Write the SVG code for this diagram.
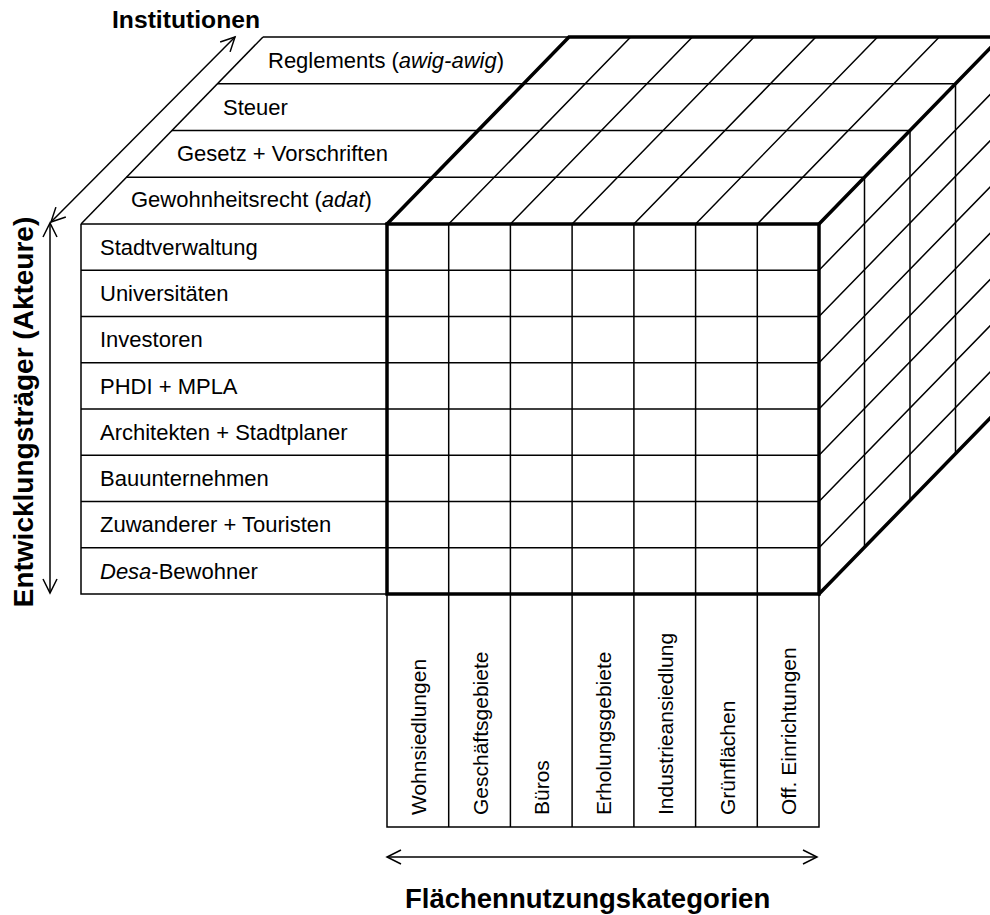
<svg xmlns="http://www.w3.org/2000/svg" width="990" height="915" viewBox="0 0 990 915">
  <style>
    .thin { fill: none; stroke: #000; stroke-width: 1.5; }
    .thick { fill: none; stroke: #000; stroke-width: 3.5; stroke-linecap: square; }
    .arr { fill: none; stroke: #000; stroke-width: 1.5; marker-start: url(#ah); marker-end: url(#ah); }
    .lbl { font-family: "Liberation Sans", Arial, sans-serif; font-size: 22px; fill: #000; }
    .vlbl { font-family: "Liberation Sans", Arial, sans-serif; font-size: 21px; fill: #000; }
    .ttl { font-family: "Liberation Sans", Arial, sans-serif; font-weight: bold; fill: #000; }
    .it { font-style: italic; }
  </style>
  <defs>
    <marker id="ah" markerUnits="userSpaceOnUse" markerWidth="30" markerHeight="30" viewBox="-20 -10 30 20" refX="0" refY="0" orient="auto-start-reverse" overflow="visible">
      <path d="M-14,-7 L0,0 L-14,7" fill="none" stroke="#000" stroke-width="1.5"/>
    </marker>
  </defs>
  <rect width="990" height="915" fill="#fff"/>

  <!-- Top face grid (depth layers) -->
  <g id="top-face">
    <path class="thin" d="M126.5,177.25 H864.5 M172,130.5 H910 M217.5,83.75 H955.5 M263,37 H569"/>
    <path class="thin" d="M81,224 L263,37"/>
    <path class="thin" d="M448.7,224 L630.7,37 M510.4,224 L692.4,37 M572.1,224 L754.1,37 M633.9,224 L815.9,37 M695.6,224 L877.6,37 M757.3,224 L939.3,37"/>
    <path class="thick" d="M387,224 L569,37 H1001 M819,224 L1001,37"/>
  </g>

  <!-- Right face grid -->
  <g id="right-face">
    <path class="thin" d="M864.5,177.25 V547.25 M910,130.5 V500.5 M955.5,83.75 V453.75"/>
    <path class="thin" d="M819,270.25 L1001,83.25 M819,316.5 L1001,129.5 M819,362.75 L1001,175.75 M819,409 L1001,222 M819,455.25 L1001,268.25 M819,501.5 L1001,314.5 M819,547.75 L1001,360.75"/>
    <path class="thick" d="M819,594 L1001,407"/>
  </g>

  <!-- Front face grid -->
  <g id="front-face">
    <path class="thin" d="M81,224 H387 M81,224 V594 H387"/>
    <path class="thin" d="M81,270.25 H819 M81,316.5 H819 M81,362.75 H819 M81,409 H819 M81,455.25 H819 M81,501.5 H819 M81,547.75 H819"/>
    <path class="thin" d="M448.7,224 V827 M510.4,224 V827 M572.1,224 V827 M633.9,224 V827 M695.6,224 V827 M757.3,224 V827"/>
    <path class="thin" d="M387,594 V827 H819 V594"/>
    <rect class="thick" x="387" y="224" width="432" height="370" style="stroke-linecap:butt;stroke-linejoin:miter"/>
  </g>

  <!-- Institutionen (depth labels) -->
  <g id="institutionen">
    <text class="lbl" x="268" y="68">Reglements (<tspan class="it">awig-awig</tspan>)</text>
    <text class="lbl" x="223" y="115">Steuer</text>
    <text class="lbl" x="177" y="161">Gesetz + Vorschriften</text>
    <text class="lbl" x="131" y="207">Gewohnheitsrecht (<tspan class="it">adat</tspan>)</text>
  </g>

  <!-- Akteure (row labels) -->
  <g id="akteure">
    <text class="lbl" x="100" y="254.5">Stadtverwaltung</text>
    <text class="lbl" x="100" y="300.5">Universitäten</text>
    <text class="lbl" x="100" y="347">Investoren</text>
    <text class="lbl" x="100" y="393.5">PHDI + MPLA</text>
    <text class="lbl" x="100" y="439.5">Architekten + Stadtplaner</text>
    <text class="lbl" x="100" y="486">Bauunternehmen</text>
    <text class="lbl" x="100" y="532">Zuwanderer + Touristen</text>
    <text class="lbl" x="100" y="578.5"><tspan class="it">Desa</tspan>-Bewohner</text>
  </g>

  <!-- Flächennutzungskategorien (column labels) -->
  <g id="kategorien">
    <text class="vlbl" transform="translate(426,815) rotate(-90)">Wohnsiedlungen</text>
    <text class="vlbl" transform="translate(487.7,815) rotate(-90)">Geschäftsgebiete</text>
    <text class="vlbl" transform="translate(549.4,815) rotate(-90)">Büros</text>
    <text class="vlbl" transform="translate(611.1,815) rotate(-90)">Erholungsgebiete</text>
    <text class="vlbl" transform="translate(672.9,815) rotate(-90)">Industrieansiedlung</text>
    <text class="vlbl" transform="translate(734.6,815) rotate(-90)">Grünflächen</text>
    <text class="vlbl" transform="translate(796.3,815) rotate(-90)">Off. Einrichtungen</text>
  </g>

  <!-- Axis arrows -->
  <g id="connectors">
    <path class="arr" d="M51,222 L235,37"/>
    <path class="arr" d="M50,223 V593"/>
    <path class="arr" d="M387,857 H817"/>
  </g>

  <!-- Axis titles -->
  <g id="titles">
    <text class="ttl" x="112" y="28" font-size="23" textLength="148" lengthAdjust="spacingAndGlyphs">Institutionen</text>
    <text class="ttl" font-size="28" text-anchor="middle" transform="translate(33,412) rotate(-90)">Entwicklungsträger (Akteure)</text>
    <text class="ttl" x="405" y="908" font-size="27.5">Flächennutzungskategorien</text>
  </g>
</svg>
